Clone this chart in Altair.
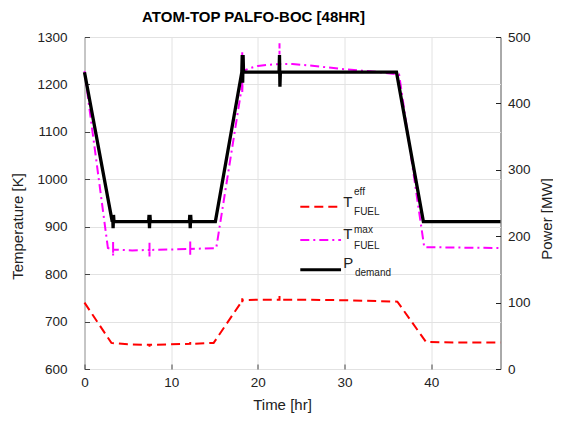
import altair as alt
import pandas as pd

# ---------------- data ----------------
# P_demand [MW] (right axis)
pow_t = [0, 3.2, 3.25, 3.3, 3.35, 3.4, 7.4, 7.45, 7.5, 7.55, 7.6,
         12.1, 12.15, 12.2, 12.25, 12.3,
         15.1, 18.15, 18.2, 18.25, 18.3, 18.35, 22.45, 22.5, 22.55, 22.6, 36.0, 39.1, 48]
pow_P = [447, 222, 232, 212, 232, 222, 222, 232, 212, 232, 222,
         222, 232, 212, 232, 222,
         222, 447, 473, 431, 473, 447, 447, 473, 425, 447, 447, 222, 222]

# T_FUEL^max [K] (left axis)
mag_t = [0, 2.7, 3.3, 3.3, 3.3, 3.3, 5.5, 7.5, 7.5, 7.5, 7.5, 10, 12.2, 12.2, 12.2, 12.2,
         15.2, 18.2, 18.2, 18.2, 18.3, 19.0, 20.0, 21.0, 22.5, 22.5, 22.5,
         24, 26, 28, 30, 32, 34, 36.3, 39.2, 43, 48]
mag_T = [1228, 855, 852, 868, 838, 852, 850, 851, 866, 837, 851, 852, 853, 869, 838, 853,
         855, 1200, 1268, 1184, 1228, 1234, 1239, 1241, 1243, 1287, 1243,
         1243, 1240, 1236, 1232, 1229, 1226, 1221, 857, 856, 855]

# T_FUEL^eff [K] (left axis)
red_t = [0, 3.1, 5, 7.5, 7.5, 7.5, 10, 12.2, 12.2, 12.2, 14.9, 18.2, 18.2, 18.2, 18.2,
         20, 22.5, 22.5, 22.5, 26, 30, 34, 36.1, 39.4, 43, 48]
red_T = [740, 655, 652, 651, 647, 651, 652, 653, 657, 653, 655, 744, 749, 741, 745,
         746, 746, 754, 746, 746, 745, 743, 742, 657, 656, 656]

x_ticks = [0, 10, 20, 30, 40]
yl_ticks = [600, 700, 800, 900, 1000, 1100, 1200, 1300]
yr_ticks = [0, 100, 200, 300, 400, 500]

# legend entries (positions in data units of time / temperature)
leg_t1 = [24.9, 24.9, 24.9]
leg_t2 = [29.6, 29.6, 29.6]
leg_v = [942, 872, 809]
big_text = ["T", "T", "P"]
big_t = [29.85, 29.85, 29.85]
big_v = [953, 885, 824]
small_text = ["eff", "FUEL", "max", "FUEL", "demand"]
small_t = [31.1, 31.1, 31.1, 31.1, 31.2]
small_v = [973, 932, 893, 860, 802]

FONT = "Liberation Sans"
W, H = 416, 332


def ldf(ts, vs):
    return pd.DataFrame({"t": ts, "v": vs, "idx": list(range(len(ts)))})


xscale = alt.Scale(domain=[0, 48], nice=False, zero=False)
yL = alt.Scale(domain=[600, 1300], nice=False, zero=False)
yR = alt.Scale(domain=[0, 500], nice=False, zero=False)

x_axis = alt.Axis(title="Time [hr]", values=x_ticks, format="d", grid=True, gridColor="#e2e2e2",
                  domain=False, tickSize=5, tickColor="#444", offset=-5, labelPadding=6,
                  labelFlush=False, labelFontSize=13.5, titleFontSize=15,
                  titleFontWeight="normal", titleX=197.5, titleY=40.5,
                  titleBaseline="middle", titleAlign="center")
yl_axis = alt.Axis(title="Temperature [K]", values=yl_ticks, format="d", grid=True,
                   gridColor="#e2e2e2",
                   domain=False, tickSize=5, tickColor="#444", offset=-5, labelPadding=17.5,
                   labelFlush=False, labelFontSize=13.5, titleFontSize=15,
                   titleFontWeight="normal", titleAngle=270, titleX=-72, titleY=189,
                   titleBaseline="middle", titleAlign="center")
yr_axis = alt.Axis(title="Power [MW]", orient="right", values=yr_ticks, format="d", grid=False,
                   domain=False, tickSize=5, tickColor="#222", offset=-5, labelPadding=7,
                   labelFlush=False, labelFontSize=13.5, titleFontSize=15,
                   titleFontWeight="normal", titleAngle=270, titleX=50.5, titleY=181.5,
                   titleBaseline="middle", titleAlign="center")

red = alt.Chart(ldf(red_t, red_T)).mark_line(
    color="#ff0000", strokeWidth=2, strokeDash=[9, 5]
).encode(x=alt.X("t:Q", scale=xscale, axis=x_axis),
         y=alt.Y("v:Q", scale=yL, axis=yl_axis),
         order=alt.Order("idx:Q"))

mag = alt.Chart(ldf(mag_t, mag_T)).mark_line(
    color="#ff00ff", strokeWidth=2, strokeDash=[9, 4, 2, 4]
).encode(x=alt.X("t:Q", scale=xscale), y=alt.Y("v:Q", scale=yL),
         order=alt.Order("idx:Q"))

leg_df = pd.DataFrame({"t": leg_t1, "t2": leg_t2, "v": leg_v})
leg_red = alt.Chart(leg_df.iloc[[0]]).mark_rule(
    color="#ff0000", strokeWidth=2, strokeDash=[9, 5]
).encode(x=alt.X("t:Q", scale=xscale), x2="t2:Q", y=alt.Y("v:Q", scale=yL))
leg_mag = alt.Chart(leg_df.iloc[[1]]).mark_rule(
    color="#ff00ff", strokeWidth=2, strokeDash=[9, 4, 2, 4]
).encode(x=alt.X("t:Q", scale=xscale), x2="t2:Q", y=alt.Y("v:Q", scale=yL))
leg_blk = alt.Chart(leg_df.iloc[[2]]).mark_rule(
    color="#000000", strokeWidth=3
).encode(x=alt.X("t:Q", scale=xscale), x2="t2:Q", y=alt.Y("v:Q", scale=yL))

big = alt.Chart(pd.DataFrame({"t": big_t, "v": big_v, "txt": big_text})).mark_text(
    font=FONT, fontSize=15, align="left", baseline="middle", color="#222"
).encode(x=alt.X("t:Q", scale=xscale), y=alt.Y("v:Q", scale=yL), text="txt:N")
small = alt.Chart(pd.DataFrame({"t": small_t, "v": small_v, "txt": small_text})).mark_text(
    font=FONT, fontSize=10, align="left", baseline="middle", color="#222"
).encode(x=alt.X("t:Q", scale=xscale), y=alt.Y("v:Q", scale=yL), text="txt:N")

left = alt.layer(red, mag, leg_red, leg_mag, leg_blk, big, small)

right = alt.Chart(ldf(pow_t, pow_P)).mark_line(
    color="#000000", strokeWidth=3.3
).encode(x=alt.X("t:Q", scale=xscale),
         y=alt.Y("v:Q", scale=yR, axis=yr_axis),
         order=alt.Order("idx:Q"))

chart = alt.layer(left, right).resolve_scale(y="independent").properties(
    width=W, height=H,
    autosize=alt.AutoSizeParams(type="none"),
    padding={"left": 76.5, "top": 29, "right": 52.5, "bottom": 44},
    title=alt.TitleParams("ATOM-TOP PALFO-BOC [48HR]", font=FONT, fontSize=15,
                          fontWeight="bold", anchor="middle", frame="group",
                          dx=-39, offset=5.5, color="#000"),
).configure_view(stroke="#555", strokeWidth=1).configure_axis(
    labelFont=FONT, titleFont=FONT, labelColor="#222", titleColor="#222"
)

chart.save("out.html", embed_options={"renderer": "svg", "actions": False})
